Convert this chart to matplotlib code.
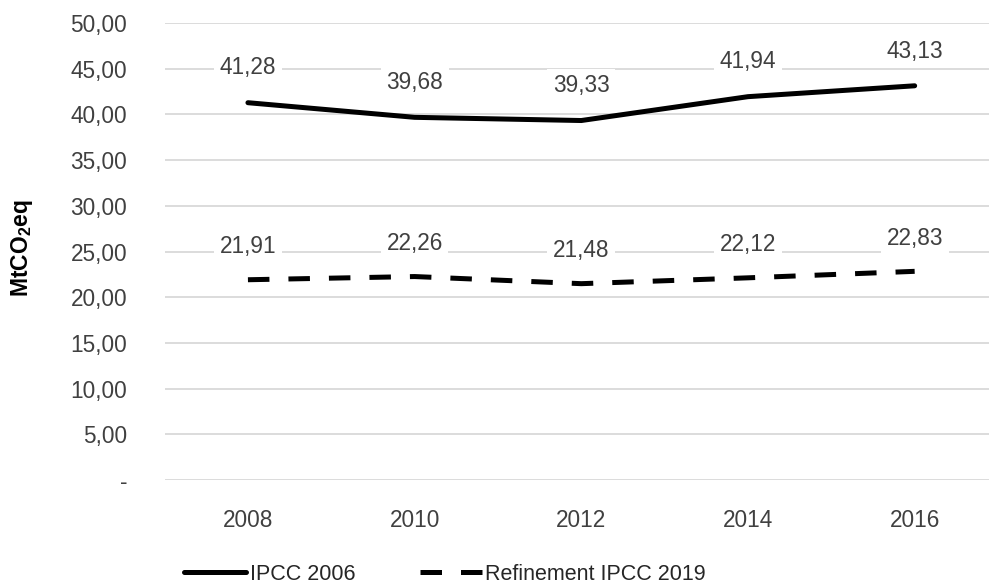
import matplotlib.pyplot as plt
from matplotlib.ticker import FuncFormatter, MultipleLocator

years = ["2008", "2010", "2012", "2014", "2016"]
ipcc_2006 = [41.28, 39.68, 39.33, 41.94, 43.13]
refinement_2019 = [21.91, 22.26, 21.48, 22.12, 22.83]

TEXT = "#404040"
GRID = "#d9d9d9"

plt.rcParams["font.family"] = ["Liberation Sans", "DejaVu Sans"]


def fmt_num(v):
    return f"{v:.2f}".replace(".", ",")


def y_fmt(v, pos):
    if abs(v) < 1e-9:
        return "-"
    return fmt_num(v)


def label_points(ax, xs, ys, offset):
    for x, y in zip(xs, ys):
        ax.annotate(fmt_num(y), (x, y), xytext=(0, offset), textcoords="offset points",
                    ha="center", va="center", fontsize=16.3, color=TEXT,
                    bbox=dict(boxstyle="square,pad=0.25", fc="white", ec="none"))


fig = plt.figure(figsize=(9.89, 5.87), dpi=100)
ax = fig.add_axes([164.6 / 989, 107 / 587, 833.4 / 989, 457 / 587])

xs = list(range(len(years)))
ax.plot(xs, ipcc_2006, color="black", lw=3.6, solid_capstyle="round", label="IPCC 2006", zorder=3)
ax.plot(xs, refinement_2019, color="black", lw=3.6, linestyle=(0, (4.3, 3.8)),
        dash_capstyle="butt", label="Refinement IPCC 2019", zorder=3)

label_points(ax, xs, ipcc_2006, 25)
label_points(ax, xs, refinement_2019, 24)

ax.set_xlim(-0.5, len(years) - 0.5)
ax.set_ylim(0, 50)
ax.yaxis.set_major_locator(MultipleLocator(5))
ax.yaxis.set_major_formatter(FuncFormatter(y_fmt))
ax.set_xticks(xs)
ax.set_xticklabels(years)
ax.grid(axis="y", color=GRID, lw=1.3)
ax.set_axisbelow(True)
for s in ax.spines.values():
    s.set_visible(False)
ax.tick_params(axis="both", length=0, labelsize=16.3, colors=TEXT)
ax.tick_params(axis="y", pad=27)
ax.tick_params(axis="x", pad=21)

fig.text(22 / 989, 1 - 248 / 587, r"MtCO$_\mathregular{2}$eq", rotation=90, ha="center", va="center",
         fontsize=16.5, fontweight="bold", color="black")

leg = fig.legend(loc="center", bbox_to_anchor=(445 / 989, 13 / 587), ncol=2, frameon=False,
                 fontsize=15.5, handlelength=2.9, handletextpad=0.15, columnspacing=3.0,
                 borderaxespad=0)
for t in leg.get_texts():
    t.set_color("#262626")

fig.savefig("out.png", dpi=100)
